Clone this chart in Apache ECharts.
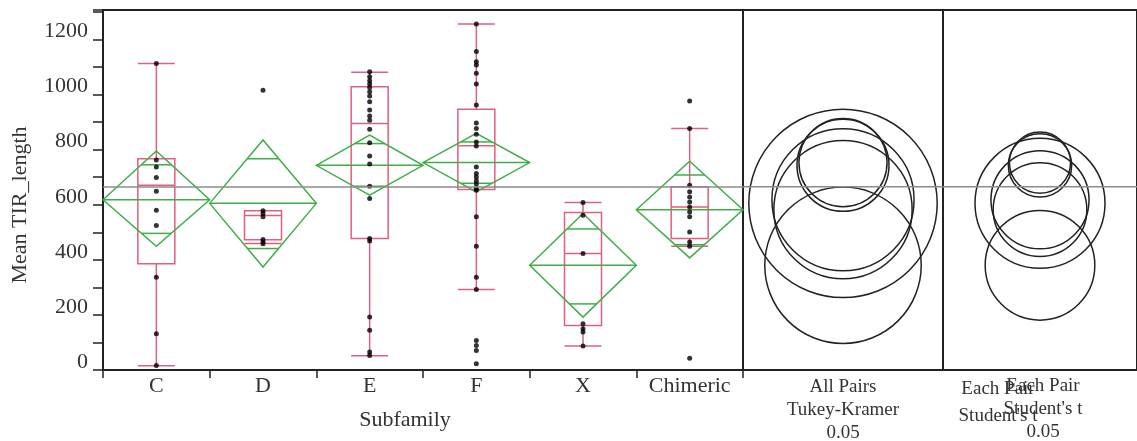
<!DOCTYPE html>
<html>
<head>
<meta charset="utf-8">
<script src="https://cdn.jsdelivr.net/npm/echarts@6/dist/echarts.min.js"></script>
<style>html,body{margin:0;padding:0;background:#fff;}#c{width:1137px;height:441px;}</style>
</head>
<body>
<div id="c"></div>
<script>
// ---- data ----
const categories = ['C', 'D', 'E', 'F', 'X', 'Chimeric'];
const yTickLabels = ['0', '200', '400', '600', '800', '1000', '1200'];

const pointsC = [1113, 762, 737, 699, 649, 580, 525, 337, 132, 16];
const pointsD = [1016, 578, 568, 556, 474, 465, 458];
const pointsE = [1083, 1065, 1050, 1038, 1026, 1010, 995, 974, 944, 922, 907, 874, 825, 777, 748, 667, 623, 477, 468, 192, 144, 65, 53];
const pointsF = [1256, 1156, 1119, 1107, 1077, 1038, 962, 897, 877, 856, 828, 813, 737, 713, 701, 687, 675, 659, 653, 556, 449, 337, 292, 107, 89, 71, 23];
const pointsX = [608, 562, 423, 168, 150, 138, 87];
const pointsChimeric = [977, 877, 671, 647, 628, 610, 592, 574, 556, 501, 465, 449, 43];

const boxMin    = [15, 459, 52, 292, 87, 449];
const boxQ1     = [386, 473, 477, 655, 162, 477];
const boxMedian = [671, 561, 895, 814, 423, 592];
const boxQ3     = [767, 578, 1028, 947, 572, 665];
const boxMax    = [1113, 578, 1081, 1256, 608, 877];

const means       = [618, 605, 743, 753, 380, 582];
const ciLower     = [449, 374, 635, 647, 192, 407];
const ciUpper     = [795, 835, 853, 859, 568, 758];
const overlapLow  = [496, 441, 667, 678, 240, 455];
const overlapHigh = [745, 767, 822, 828, 512, 708];

const grandMean = 665;

const tukeyRadius   = [258, 342, 167, 160, 284, 251];
const studentRadius = [178, 236, 115, 111, 199, 170];

// ---- styles ----
const RED = '#e0607f';
const GREEN = '#3fae49';
const INK = '#222';
const TXT = '#333';
const SERIF = '"Liberation Serif", "DejaVu Serif", serif';
const Y_MIN = 0, Y_MAX = 1307;

const pointGroups = [pointsC, pointsD, pointsE, pointsF, pointsX, pointsChimeric];
const scatterData = [];
pointGroups.forEach((arr, i) => arr.forEach(v => scatterData.push([i, v])));

const boxData = categories.map((c, i) => [boxMin[i], boxQ1[i], boxMedian[i], boxQ3[i], boxMax[i]]);
const diamondData = categories.map((c, i) => [i, means[i], ciLower[i], ciUpper[i], overlapLow[i], overlapHigh[i]]);
const tukeyData = categories.map((c, i) => [0, means[i], tukeyRadius[i]]);
const studentData = categories.map((c, i) => [0, means[i], studentRadius[i]]);

function yAxisHidden(grid) {
  return { type: 'value', gridIndex: grid, min: Y_MIN, max: Y_MAX, show: false, splitLine: { show: false } };
}
function xAxisHidden(grid) {
  return { type: 'value', gridIndex: grid, min: -1, max: 1, show: false, splitLine: { show: false } };
}

function circleItem(params, api) {
  const c = api.coord([api.value(0), api.value(1)]);
  const r = api.size([0, api.value(2)])[1];
  return { type: 'circle', shape: { cx: c[0], cy: c[1], r: r },
           style: { fill: 'none', stroke: INK, lineWidth: 1.5 } };
}

const chart = echarts.init(document.getElementById('c'), null, { renderer: 'canvas' });
const gridBase = { top: 10, height: 360, show: true, borderColor: INK, borderWidth: 2, backgroundColor: 'transparent' };

chart.setOption({
  animation: false,
  backgroundColor: '#fff',
  grid: [
    Object.assign({ left: 103, width: 640 }, gridBase),
    Object.assign({ left: 743, width: 200 }, gridBase),
    Object.assign({ left: 943, width: 200 }, gridBase)
  ],
  xAxis: [
    { type: 'category', gridIndex: 0, data: categories, boundaryGap: true,
      axisLine: { show: true, lineStyle: { color: INK, width: 2 } },
      axisTick: { show: true, length: 8, lineStyle: { color: INK, width: 1.5 } },
      axisLabel: { fontFamily: SERIF, fontSize: 22, color: TXT, margin: 5 },
      splitLine: { show: false } },
    xAxisHidden(1),
    xAxisHidden(2)
  ],
  yAxis: [
    { type: 'value', gridIndex: 0, min: Y_MIN, max: Y_MAX, interval: 100,
      axisLine: { show: true, lineStyle: { color: INK, width: 2 } },
      axisTick: { show: true, length: 10, lineStyle: { color: INK, width: 1.5 } },
      axisLabel: { fontFamily: SERIF, fontSize: 22, color: TXT, margin: 15, verticalAlign: 'bottom', lineHeight: 16,
                   formatter: v => yTickLabels.indexOf(String(v)) >= 0 ? String(v) : '' },
      splitLine: { show: false } },
    yAxisHidden(1),
    yAxisHidden(2)
  ],
  graphic: [
    { type: 'text', x: 20, y: 205, rotation: Math.PI / 2,
      style: { text: 'Mean TIR_length', font: '22px ' + SERIF, fill: TXT, align: 'center', verticalAlign: 'middle' } },
    { type: 'text', x: 405, y: 420,
      style: { text: 'Subfamily', font: '22px ' + SERIF, fill: TXT, align: 'center', verticalAlign: 'middle' } },
    { type: 'text', x: 843, y: 376,
      style: { text: 'All Pairs\nTukey-Kramer\n0.05', font: '19px ' + SERIF, lineHeight: 23, fill: TXT, align: 'center', verticalAlign: 'top' } },
    { type: 'text', x: 1043, y: 375,
      style: { text: 'Each Pair\nStudent\'s t\n0.05', font: '19px ' + SERIF, lineHeight: 23, fill: TXT, align: 'center', verticalAlign: 'top' } },
    { type: 'text', x: 998, y: 376,
      style: { text: 'Each Pair\nStudent\'s t', font: '19px ' + SERIF, lineHeight: 27, fill: TXT, align: 'center', verticalAlign: 'top' } }
  ],
  series: [
    { type: 'boxplot', xAxisIndex: 0, yAxisIndex: 0, data: boxData, boxWidth: [37, 37], z: 2,
      itemStyle: { color: 'transparent', borderColor: RED, borderWidth: 1.5 },
      emphasis: { disabled: true },
      markLine: { silent: true, symbol: 'none', label: { show: false },
                  lineStyle: { color: '#8c8c8c', width: 1.5, type: 'solid' },
                  data: [{ yAxis: grandMean }] } },
    { type: 'custom', xAxisIndex: 0, yAxisIndex: 0, data: diamondData, z: 3,
      renderItem: function (params, api) {
        const i = api.value(0);
        const c = api.coord([i, api.value(1)]);
        const lo = api.coord([i, api.value(2)]);
        const hi = api.coord([i, api.value(3)]);
        const ol = api.coord([i, api.value(4)]);
        const oh = api.coord([i, api.value(5)]);
        const hw = api.size([1, 0])[0] / 2;
        const wHi = hw * (1 - (c[1] - oh[1]) / (c[1] - hi[1]));
        const wLo = hw * (1 - (ol[1] - c[1]) / (lo[1] - c[1]));
        const st = { fill: 'none', stroke: GREEN, lineWidth: 1.5 };
        return { type: 'group', children: [
          { type: 'polygon', shape: { points: [[c[0] - hw, c[1]], [c[0], hi[1]], [c[0] + hw, c[1]], [c[0], lo[1]]] }, style: st },
          { type: 'line', shape: { x1: c[0] - hw, y1: c[1], x2: c[0] + hw, y2: c[1] }, style: st },
          { type: 'line', shape: { x1: c[0] - wHi, y1: oh[1], x2: c[0] + wHi, y2: oh[1] }, style: st },
          { type: 'line', shape: { x1: c[0] - wLo, y1: ol[1], x2: c[0] + wLo, y2: ol[1] }, style: st }
        ] };
      } },
    { type: 'scatter', xAxisIndex: 0, yAxisIndex: 0, data: scatterData, symbol: 'circle', symbolSize: 5, z: 4,
      itemStyle: { color: '#000' } },
    { type: 'line', xAxisIndex: 1, yAxisIndex: 1, data: [[-1, grandMean], [1, grandMean]], symbol: 'none',
      lineStyle: { color: '#8c8c8c', width: 1.5 } },
    { type: 'line', xAxisIndex: 2, yAxisIndex: 2, data: [[-1, grandMean], [1, grandMean]], symbol: 'none',
      lineStyle: { color: '#8c8c8c', width: 1.5 } },
    { type: 'custom', xAxisIndex: 1, yAxisIndex: 1, data: tukeyData, renderItem: circleItem, z: 3 },
    { type: 'custom', xAxisIndex: 2, yAxisIndex: 2, data: studentData, renderItem: circleItem, z: 3 }
  ]
});
</script>
</body>
</html>
